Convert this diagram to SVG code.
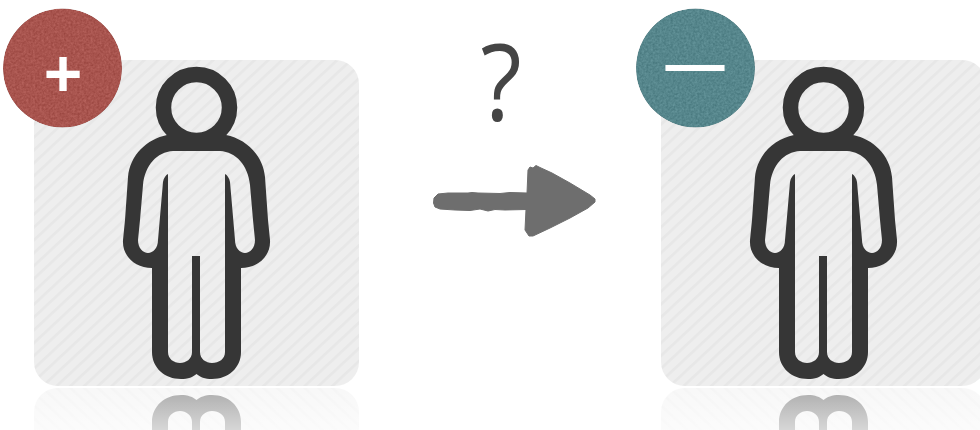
<svg xmlns="http://www.w3.org/2000/svg" width="980" height="430" viewBox="0 0 980 430">
<style>
.panel{fill:url(#hatch)}
.ink{fill:#363636}
.ring{fill:none;stroke:#363636;stroke-width:15.5}
.badge-text{fill:#fff;font-family:"Liberation Sans",Arial,sans-serif;text-anchor:middle;font-weight:700}
</style>
<defs>
<pattern id="hatch" width="9.4" height="9.4" patternUnits="userSpaceOnUse" patternTransform="rotate(-43)">
<rect width="9.4" height="9.4" fill="#eeeeee"/>
<rect width="9.4" height="2.6" fill="#e7e7e7"/>
</pattern>
<linearGradient id="fade" x1="0" y1="0" x2="0" y2="1">
<stop offset="0" stop-color="#fff" stop-opacity="0.58"/>
<stop offset="1" stop-color="#fff" stop-opacity="0.8"/>
</linearGradient>
<filter id="grain" x="0" y="0" width="100%" height="100%" color-interpolation-filters="sRGB">
<feTurbulence type="fractalNoise" baseFrequency="0.45" numOctaves="2" seed="4" result="n"/>
<feColorMatrix in="n" type="matrix" values="1 0 0 0 0  1 0 0 0 0  1 0 0 0 0  0 0 0 0 1" result="g"/>
<feComposite in="SourceGraphic" in2="g" operator="arithmetic" k1="0" k2="1" k3="0.16" k4="-0.08" result="t"/>
<feComposite in="t" in2="SourceAlpha" operator="in"/>
</filter>
<g id="person">
<circle class="ring" cx="196.5" cy="107.500" r="33"/>
<path class="ink" fill-rule="evenodd" d="M196.500 135H167C147 139 130 155 128 177L125 220L123 240C122 256 135 268 152 268V352C152 368 165 379 181 379C188 379 193 377 196.500 374C200 377 205 379 212 379C228 379 241 368 241 352V268C258 268 271 256 270 240L268 220L265 177C263 155 246 139 226 135Z
M196.500 151H173C157 152 145 165 143 185L140 220L138 240C138 248 143 253 148 253C153 253 158 248 158 240L163 182C163.500 178 166 175 168 174V352C168 359 174 363 180 363C186 363 192 359 192 352V256H200V352C200 359 206 363 212 363C219 363 225 359 225 352V174C227 175 229.500 178 230 182L235 240C235 248 240 253 245 253C250 253 255 248 255 240L253 220L250 185C248 165 236 152 220 151Z"/>
</g>
<g id="figure">
<rect class="panel" x="34" y="60" width="325" height="326" rx="24"/>
<use href="#person"/>
<g transform="matrix(1 0 0 -1 0 774)">
<rect class="panel" x="34" y="60" width="325" height="326" rx="24"/>
<use href="#person"/>
</g>
<rect x="30" y="387" width="333" height="43" fill="url(#fade)"/>
</g>
</defs>
<g id="node-left">
<use href="#figure"/>
<circle cx="62.500" cy="68" r="59.500" fill="#a8544e" filter="url(#grain)"/>
<text class="badge-text" x="63" y="96" font-size="66">+</text>
</g>
<g id="node-right">
<use href="#figure" x="627"/>
<circle cx="695.500" cy="68" r="59.500" fill="#56868c" filter="url(#grain)"/>
<text class="badge-text" x="695" y="84" font-size="59">—</text>
</g>
<g id="connectors">
<path fill="#6e6e6e" stroke="#6e6e6e" stroke-width="1" stroke-linejoin="round" d="M527 193L528 170L530 167L533 168L536 165.500L540 167.500L552 173L570 183L590 195L595 199L595 202L588 208L570 218L550 228L533 236L529 236L525 230L526 209.500L505 210L495 209.500L488 211L480 209L470 210.500L455 210L440 209L435 207L433.500 203L434 198L438 194L448 193L468 193L472 192.500L478 193L500 193.500L510 192.500Z"/>
<text transform="translate(501 120.500) scale(0.9 1)" font-family="'Open Sans',sans-serif" font-size="106" font-weight="500" fill="#454545" text-anchor="middle">?</text>
</g>
</svg>
